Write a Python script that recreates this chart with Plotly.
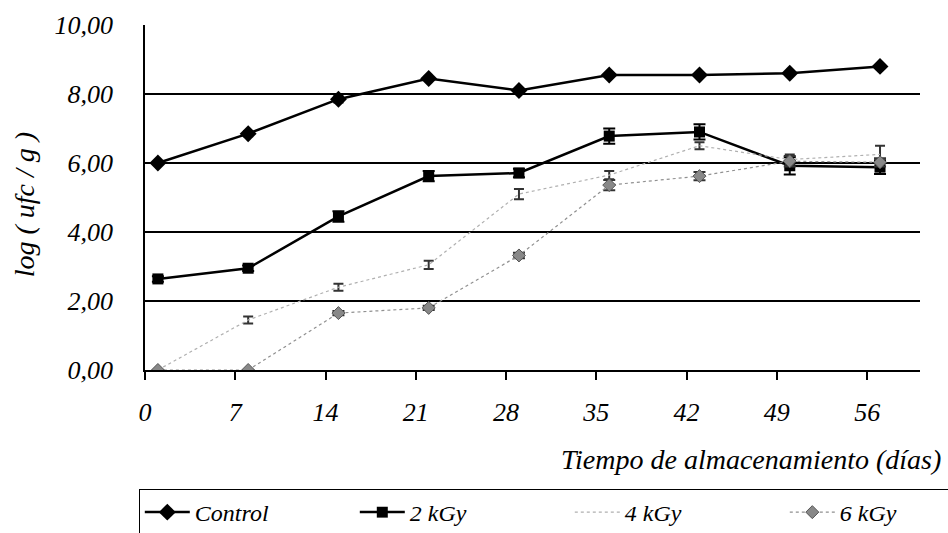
import plotly.graph_objects as go

dias = [1, 8, 15, 22, 29, 36, 43, 50, 57]
control = [6.00, 6.85, 7.85, 8.45, 8.10, 8.55, 8.55, 8.60, 8.80]
control_err = [0.05, 0.08, 0.10, 0.05, 0.05, 0.05, 0.05, 0.05, 0.05]
kgy2 = [2.64, 2.95, 4.45, 5.62, 5.71, 6.78, 6.90, 5.92, 5.88]
kgy2_err = [0.08, 0.08, 0.15, 0.15, 0.12, 0.22, 0.22, 0.25, 0.20]
kgy4 = [0.00, 1.45, 2.40, 3.05, 5.10, 5.65, 6.50, 6.10, 6.25]
kgy4_err = [0.00, 0.10, 0.10, 0.12, 0.15, 0.12, 0.10, 0.15, 0.25]
kgy6 = [0.00, 0.00, 1.65, 1.80, 3.32, 5.36, 5.62, 6.05, 6.02]
kgy6_err = [0.00, 0.00, 0.06, 0.06, 0.08, 0.15, 0.12, 0.15, 0.12]

x_ticks = [0, 7, 14, 21, 28, 35, 42, 49, 56]
y_ticks = [0, 2, 4, 6, 8, 10]
y_tick_text = ["0,00", "2,00", "4,00", "6,00", "8,00", "10,00"]

FONT = "Liberation Serif"

fig = go.Figure()
fig.add_trace(go.Scatter(
    x=dias, y=control, name="Control", mode="lines+markers",
    line=dict(color="black", width=2.5),
    marker=dict(symbol="diamond", size=13, color="black"),
    error_y=dict(type="data", array=control_err, color="black", thickness=1.5, width=5),
))
fig.add_trace(go.Scatter(
    x=dias, y=kgy2, name="2 kGy", mode="lines+markers",
    line=dict(color="black", width=2.5),
    marker=dict(symbol="square", size=11, color="black"),
    error_y=dict(type="data", array=kgy2_err, color="black", thickness=2, width=6),
))
fig.add_trace(go.Scatter(
    x=dias, y=kgy4, name="4 kGy", mode="lines",
    line=dict(color="#b0b0b0", width=1.2, dash="dot"),
    error_y=dict(type="data", array=kgy4_err, color="#333333", thickness=2, width=5),
))
fig.add_trace(go.Scatter(
    x=dias, y=kgy6, name="6 kGy", mode="lines+markers",
    line=dict(color="#909090", width=1.2, dash="dot"),
    marker=dict(symbol="diamond", size=10, color="#888888", line=dict(color="#555555", width=1)),
    error_y=dict(type="data", array=kgy6_err, color="#333333", thickness=2, width=6),
))

fig.update_layout(
    width=948, height=533,
    margin=dict(l=145, r=28, t=25, b=163, autoexpand=False),
    paper_bgcolor="white", plot_bgcolor="white",
    font=dict(family=FONT, color="black"),
    showlegend=True,
    legend=dict(
        orientation="h", x=-0.008, y=-0.345, xanchor="left", yanchor="top",
        bordercolor="black", borderwidth=1,
        font=dict(family=FONT, size=24, style="italic"),
        entrywidth=155, entrywidthmode="pixels", itemwidth=45,
    ),
    xaxis=dict(
        range=[0, 60.1], tickvals=x_ticks, ticktext=[str(v) for v in x_ticks],
        showgrid=False, zeroline=False,
        showline=True, linecolor="black", linewidth=1.5,
        ticks="outside", ticklen=8, tickcolor="black", tickwidth=1.5,
        tickfont=dict(family=FONT, size=26, style="italic"),
        ticklabelstandoff=10,
    ),
    yaxis=dict(
        range=[0, 10], tickvals=y_ticks, ticktext=y_tick_text,
        showgrid=True, gridcolor="black", gridwidth=1.5,
        zeroline=False,
        showline=True, linecolor="black", linewidth=1.5,
        ticks="", tickfont=dict(family=FONT, size=26, style="italic"),
        ticklabelstandoff=25,
    ),
    annotations=[
        dict(text="Tiempo de almacenamiento (días)", xref="paper", yref="paper",
             x=1.03, y=-0.26, xanchor="right", yanchor="middle", showarrow=False,
             font=dict(family=FONT, size=28, style="italic")),
        dict(text="log ( ufc / g )", xref="paper", yref="paper",
             x=-0.155, y=0.48, xanchor="center", yanchor="middle", showarrow=False,
             textangle=-90, font=dict(family=FONT, size=28, style="italic")),
    ],
)

fig.write_html("out.html", config={"displayModeBar": False},
               post_script="document.body.style.margin='0';")
